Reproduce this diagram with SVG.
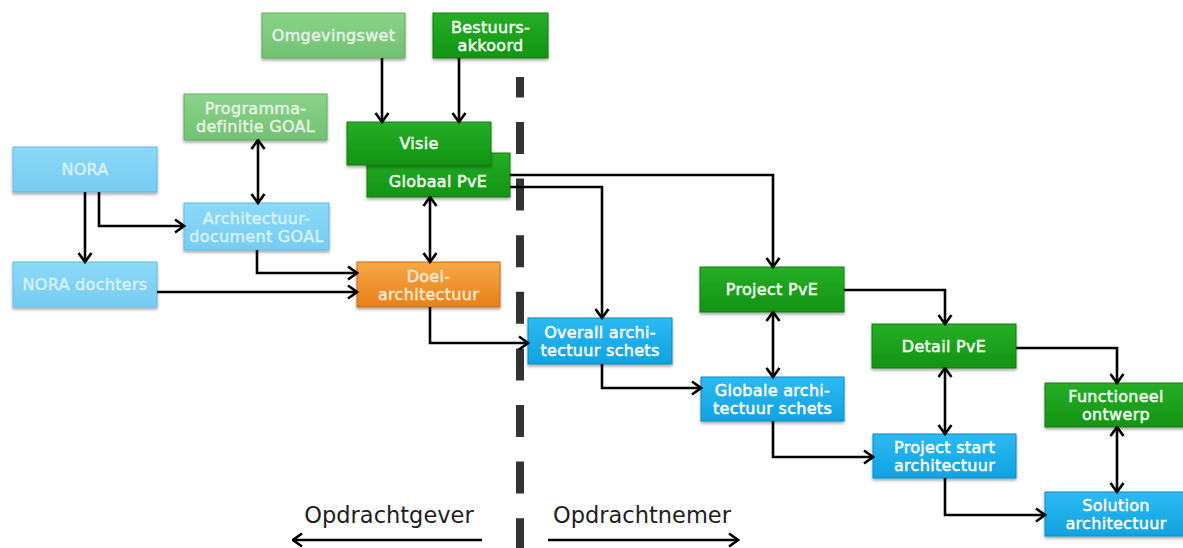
<svg xmlns="http://www.w3.org/2000/svg" width="1183" height="548" viewBox="0 0 1183 548">
  <defs>
    <linearGradient id="gLightGreen" x1="0" y1="0" x2="0" y2="1">
      <stop offset="0" stop-color="#8ad38a"/>
      <stop offset="1" stop-color="#72c172"/>
    </linearGradient>
    <linearGradient id="gGreen" x1="0" y1="0" x2="0" y2="1">
      <stop offset="0" stop-color="#26ae26"/>
      <stop offset="1" stop-color="#139313"/>
    </linearGradient>
    <linearGradient id="gLightBlue" x1="0" y1="0" x2="0" y2="1">
      <stop offset="0" stop-color="#8cd9f8"/>
      <stop offset="1" stop-color="#76ccf1"/>
    </linearGradient>
    <linearGradient id="gBlue" x1="0" y1="0" x2="0" y2="1">
      <stop offset="0" stop-color="#2dbaf3"/>
      <stop offset="1" stop-color="#10a2e0"/>
    </linearGradient>
    <linearGradient id="gOrange" x1="0" y1="0" x2="0" y2="1">
      <stop offset="0" stop-color="#f7a846"/>
      <stop offset="1" stop-color="#e8801a"/>
    </linearGradient>
    <filter id="shadow" x="-10%" y="-10%" width="120%" height="130%">
      <feDropShadow dx="0" dy="2" stdDeviation="1.5" flood-color="#000" flood-opacity="0.35"/>
    </filter>
    <marker id="arrow" markerUnits="userSpaceOnUse" viewBox="0 0 12 16" refX="10.5" refY="8" markerWidth="12" markerHeight="16" orient="auto-start-reverse">
      <path d="M1.5,1.5 L10.5,8 L1.5,14.5" fill="none" stroke="#000" stroke-width="2.6" stroke-linejoin="miter"/>
    </marker>
  </defs>
  <style>
    .box { stroke-width: 1; filter: url(#shadow); }
    .lg { fill: url(#gLightGreen); stroke: #5fae5f; }
    .g { fill: url(#gGreen); stroke: #0f7f0f; }
    .lb { fill: url(#gLightBlue); stroke: #63bbe0; }
    .b { fill: url(#gBlue); stroke: #0d8cc4; }
    .o { fill: url(#gOrange); stroke: #c96a10; }
    .t { font-family: "DejaVu Sans", Verdana, sans-serif; font-size: 16px; text-anchor: middle; letter-spacing: 0.3px; stroke-width: 0.5px; }
    .tlg { fill: #e4f2e4; stroke: #e4f2e4; }
    .tg { fill: #f2fff2; stroke: #f2fff2; }
    .tlb { fill: #d6f1fc; stroke: #d6f1fc; }
    .tb { fill: #ffffff; stroke: #ffffff; }
    .to { fill: #fde9cf; stroke: #fde9cf; }
    .conn { fill: none; stroke: #000; stroke-width: 2.6; }
    .label { font-family: "DejaVu Sans", Verdana, sans-serif; font-size: 22.5px; fill: #1e1e1e; text-anchor: middle; }
  </style>

  <rect width="1183" height="548" fill="#ffffff"/>

  <!-- boundary between client and contractor -->
  <line id="divider" x1="520" y1="77" x2="520" y2="548" stroke="#333333" stroke-width="8" stroke-dasharray="32 24.6" stroke-dashoffset="11.6"/>

  <!-- nodes -->
  <g id="omgevingswet">
    <rect class="box lg" x="262" y="13" width="143" height="45"/>
    <text class="t tlg" x="333.5" y="41">Omgevingswet</text>
  </g>
  <g id="bestuursakkoord">
    <rect class="box g" x="433" y="13" width="115" height="45"/>
    <text class="t tg" x="490.5" y="32.5">Bestuurs-</text>
    <text class="t tg" x="490.5" y="50.5">akkoord</text>
  </g>
  <g id="programmadefinitie">
    <rect class="box lg" x="184" y="94" width="143" height="46"/>
    <text class="t tlg" x="255.5" y="114">Programma-</text>
    <text class="t tlg" x="255.5" y="132">definitie GOAL</text>
  </g>
  <g id="nora">
    <rect class="box lb" x="13" y="147" width="144" height="45"/>
    <text class="t tlb" x="85" y="175">NORA</text>
  </g>
  <g id="globaal-pve">
    <rect class="box g" x="367" y="153" width="143" height="44"/>
    <text class="t tg" x="438" y="187">Globaal PvE</text>
  </g>
  <g id="visie">
    <rect class="box g" x="347" y="122" width="144" height="43"/>
    <text class="t tg" x="419" y="149">Visie</text>
  </g>
  <g id="architectuurdocument">
    <rect class="box lb" x="184" y="203" width="145" height="47"/>
    <text class="t tlb" x="256.5" y="223.5">Architectuur-</text>
    <text class="t tlb" x="256.5" y="241.5">document GOAL</text>
  </g>
  <g id="nora-dochters">
    <rect class="box lb" x="13" y="262" width="144" height="45"/>
    <text class="t tlb" x="85" y="290">NORA dochters</text>
  </g>
  <g id="doelarchitectuur">
    <rect class="box o" x="357" y="262" width="143" height="45"/>
    <text class="t to" x="428.5" y="281.5">Doel-</text>
    <text class="t to" x="428.5" y="299.5">architectuur</text>
  </g>
  <g id="overall-architectuurschets">
    <rect class="box b" x="528" y="318" width="144" height="46"/>
    <text class="t tb" x="600" y="338">Overall archi-</text>
    <text class="t tb" x="600" y="356">tectuur schets</text>
  </g>
  <g id="project-pve">
    <rect class="box g" x="700" y="267" width="144" height="45"/>
    <text class="t tg" x="772" y="295">Project PvE</text>
  </g>
  <g id="detail-pve">
    <rect class="box g" x="872" y="324" width="144" height="44"/>
    <text class="t tg" x="944" y="351.5">Detail PvE</text>
  </g>
  <g id="globale-architectuurschets">
    <rect class="box b" x="701" y="377" width="143" height="44"/>
    <text class="t tb" x="772.5" y="396">Globale archi-</text>
    <text class="t tb" x="772.5" y="414">tectuur schets</text>
  </g>
  <g id="functioneel-ontwerp">
    <rect class="box g" x="1045" y="383" width="140" height="44"/>
    <text class="t tg" x="1116" y="402">Functioneel</text>
    <text class="t tg" x="1116" y="420">ontwerp</text>
  </g>
  <g id="project-start-architectuur">
    <rect class="box b" x="873" y="434" width="143" height="44"/>
    <text class="t tb" x="944.5" y="453">Project start</text>
    <text class="t tb" x="944.5" y="471">architectuur</text>
  </g>
  <g id="solution-architectuur">
    <rect class="box b" x="1045" y="492" width="140" height="44"/>
    <text class="t tb" x="1116" y="511">Solution</text>
    <text class="t tb" x="1116" y="529">architectuur</text>
  </g>

  <!-- connectors -->
  <g id="connectors">
    <path class="conn" d="M382,58 V122" marker-end="url(#arrow)"/>
    <path class="conn" d="M459,58 V122" marker-end="url(#arrow)"/>
    <path class="conn" d="M258,140 V203" marker-start="url(#arrow)" marker-end="url(#arrow)"/>
    <path class="conn" d="M85,192 V262" marker-end="url(#arrow)"/>
    <path class="conn" d="M99,192 V226 H184" marker-end="url(#arrow)"/>
    <path class="conn" d="M430,197 V262" marker-start="url(#arrow)" marker-end="url(#arrow)"/>
    <path class="conn" d="M257,250 V273 H357" marker-end="url(#arrow)"/>
    <path class="conn" d="M157,292 H357" marker-end="url(#arrow)"/>
    <path class="conn" d="M430,307 V343 H528" marker-end="url(#arrow)"/>
    <path class="conn" d="M510,175 H773 V267" marker-end="url(#arrow)"/>
    <path class="conn" d="M510,187 H602 V318" marker-end="url(#arrow)"/>
    <path class="conn" d="M844,290 H945 V324" marker-end="url(#arrow)"/>
    <path class="conn" d="M773,312 V377" marker-start="url(#arrow)" marker-end="url(#arrow)"/>
    <path class="conn" d="M602,364 V388 H701" marker-end="url(#arrow)"/>
    <path class="conn" d="M1016,348 H1117 V383" marker-end="url(#arrow)"/>
    <path class="conn" d="M945,368 V434" marker-start="url(#arrow)" marker-end="url(#arrow)"/>
    <path class="conn" d="M773,421 V457 H873" marker-end="url(#arrow)"/>
    <path class="conn" d="M1117,427 V492" marker-start="url(#arrow)" marker-end="url(#arrow)"/>
    <path class="conn" d="M945,478 V515 H1045" marker-end="url(#arrow)"/>
    <path class="conn" d="M482,540 H293" marker-end="url(#arrow)"/>
    <path class="conn" d="M548,540 H738" marker-end="url(#arrow)"/>
  </g>

  <!-- side labels -->
  <text class="label" x="389" y="523">Opdrachtgever</text>
  <text class="label" x="642" y="523">Opdrachtnemer</text>
</svg>
